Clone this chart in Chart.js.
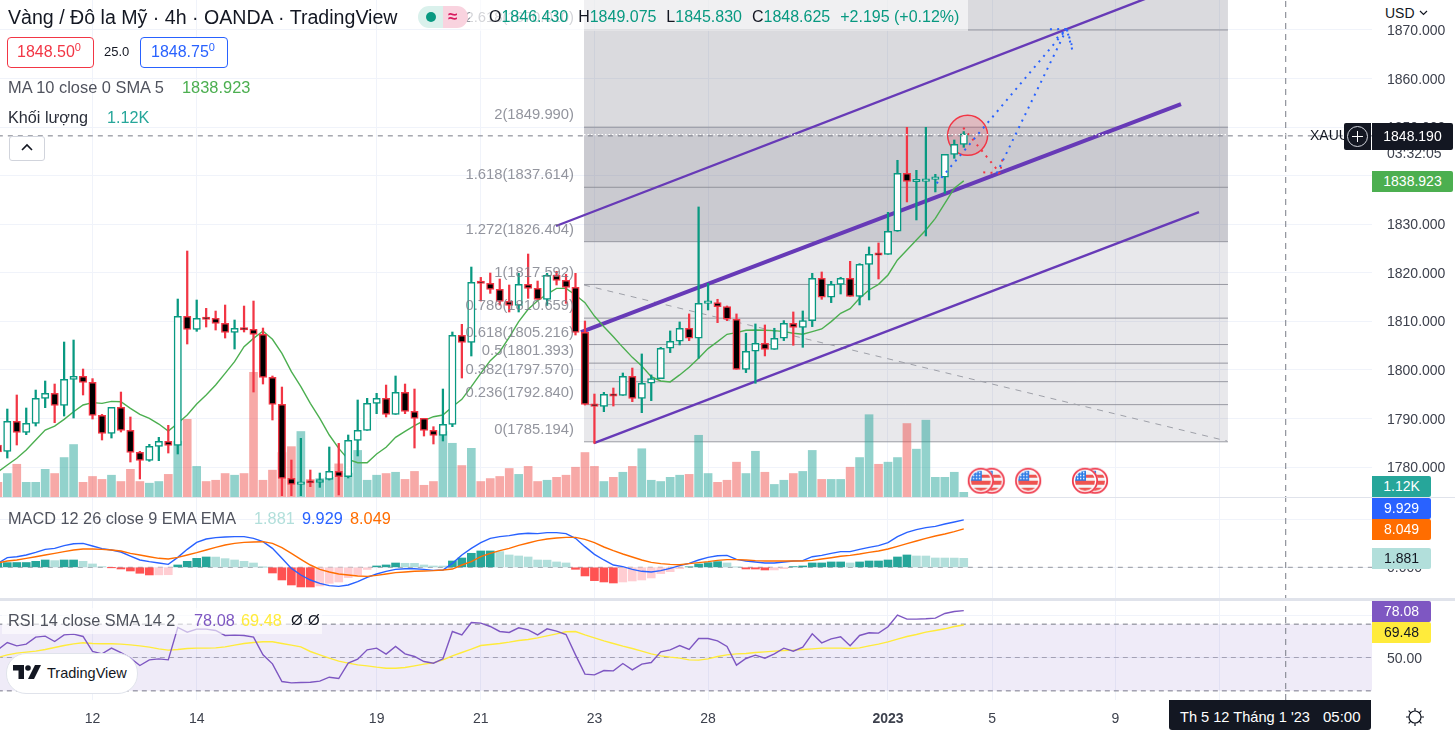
<!DOCTYPE html>
<html>
<head>
<meta charset="utf-8">
<script src="https://cdn.jsdelivr.net/npm/chart.js@4"></script>
<style>
html, body { margin: 0; padding: 0; background: #fff; overflow: hidden; }
body { width: 1455px; height: 733px; position: relative; font-family: "Liberation Sans", Arial, sans-serif; color: #131722; }
canvas { position: absolute; left: 0; top: 0; }
.t { position: absolute; white-space: nowrap; line-height: 20px; }
.box { position: absolute; }
.badge { position: absolute; left: 1372px; width: 59px; height: 21px; line-height: 21px; text-align: center; color: #fff; font-size: 14px; border-radius: 0 2px 2px 0; }
.gr { color: #089981; }
</style>
</head>
<body>
<canvas id="tvChart" width="1455" height="733"></canvas>

<div class="box" style="left:470px;top:0;width:498px;height:31px;background:rgba(255,255,255,.6)"></div>
<div class="t" style="left:8px;top:7px;font-size:19.6px">Vàng / Đô la Mỹ · 4h · OANDA · TradingView</div>
<div class="box" style="left:418px;top:6px;width:25px;height:22px;background:#daf1ec;border-radius:11px 0 0 11px"></div>
<div class="box" style="left:443px;top:6px;width:25px;height:22px;background:#f9d3df;border-radius:0 11px 11px 0"></div>
<div class="box" style="left:426px;top:12px;width:10px;height:10px;background:#089981;border-radius:50%"></div>
<div class="t" style="left:448px;top:7px;font-size:17px;font-weight:bold;color:#d81b60">≈</div>
<div class="t" style="left:489px;top:7px;font-size:16px;word-spacing:5.5px">O<span class="gr">1846.430</span>&nbsp;H<span class="gr">1849.075</span>&nbsp;L<span class="gr">1845.830</span>&nbsp;C<span class="gr">1848.625</span>&nbsp;<span class="gr" style="word-spacing:0">+2.195 (+0.12%)</span></div>

<div class="box" style="left:7px;top:37px;width:85px;height:29px;border:1px solid #f23645;border-radius:4px;background:#fff"></div>
<div class="t" style="left:17px;top:42px;font-size:16px;color:#f23645">1848.50<sup style="font-size:11px;line-height:0">0</sup></div>
<div class="t" style="left:104px;top:42px;font-size:13px">25.0</div>
<div class="box" style="left:140px;top:37px;width:86px;height:29px;border:1px solid #2962ff;border-radius:4px;background:#fff"></div>
<div class="t" style="left:151px;top:42px;font-size:16px;color:#2962ff">1848.75<sup style="font-size:11px;line-height:0">0</sup></div>
<div class="t" style="left:8px;top:77px;font-size:16.4px;color:#50535e">MA 10 close 0 SMA 5</div>
<div class="t" style="left:182px;top:77px;font-size:16.4px;color:#4caf50">1838.923</div>
<div class="t" style="left:8px;top:107px;font-size:16.2px;color:#2a2e39">Khối lượng</div>
<div class="t" style="left:107px;top:107px;font-size:16.2px;color:#26a69a">1.12K</div>
<div class="box" style="left:9px;top:136px;width:34px;height:23px;border:1px solid #d1d4dc;border-radius:3px;background:#fff"></div>
<svg class="box" style="left:20px;top:143px" width="14" height="9"><path d="M2 7 L7 2 L12 7" fill="none" stroke="#131722" stroke-width="1.6"/></svg>

<div class="box" style="left:0;top:497px;width:1455px;height:1px;background:#e0e3eb"></div>
<div class="box" style="left:0;top:598px;width:1455px;height:3px;background:#e0e3eb"></div>

<div class="t" style="left:8px;top:508px;font-size:16.3px;color:#50535e">MACD 12 26 close 9 EMA EMA</div>
<div class="t" style="left:254px;top:508px;font-size:16.3px;color:#b2dfdb">1.881</div>
<div class="t" style="left:302px;top:508px;font-size:16.3px;color:#2962ff">9.929</div>
<div class="t" style="left:350px;top:508px;font-size:16.3px;color:#ff6d00">8.049</div>

<div class="box" style="left:2px;top:608px;width:320px;height:26px;background:rgba(255,255,255,.6)"></div>
<div class="t" style="left:8px;top:610px;font-size:16.3px;color:#50535e">RSI 14 close SMA 14 2</div>
<div class="t" style="left:194px;top:610px;font-size:16.3px;color:#7e57c2">78.08</div>
<div class="t" style="left:241px;top:610px;font-size:16.3px;color:#ffeb3b">69.48</div>
<div class="t" style="left:291px;top:610px;font-size:15px;color:#131722">Ø</div>
<div class="t" style="left:308px;top:610px;font-size:15px;color:#131722">Ø</div>

<div class="box" style="left:6px;top:653px;width:130px;height:39px;background:#fff;border:1px solid #e0e3eb;border-radius:20px"></div>
<svg class="box" style="left:13px;top:665px" width="28" height="15"><path d="M0 0 H11 V14 H5.5 V5.5 H0 Z" fill="#131722"/><circle cx="15" cy="3" r="2.8" fill="#131722"/><path d="M22 0 H28 L21 14 H15 Z" fill="#131722"/></svg>
<div class="t" style="left:47px;top:663px;font-size:14.5px;color:#131722">TradingView</div>

<div class="t" style="left:1310px;top:125px;font-size:14px">XAUU</div>
<div class="t" style="left:1387px;top:143px;font-size:14px;color:#3d414d;height:17px;line-height:20px">03:32:05</div>
<div class="box" style="left:1344px;top:123px;width:27px;height:27px;background:#131722;border-radius:2px 0 0 2px"></div>
<div class="box" style="left:1372px;top:123px;width:81px;height:27px;background:#131722;border-radius:0 2px 2px 0;color:#fff;font-size:14px;line-height:27px;text-align:center">1848.190</div>
<svg class="box" style="left:1346px;top:125px" width="23" height="23"><circle cx="11.5" cy="11.5" r="10" fill="none" stroke="#d1d4dc" stroke-width="1"/><path d="M11.5 6 V17 M6 11.5 H17" stroke="#fff" stroke-width="1"/></svg>
<div class="box" style="left:1372px;top:171px;width:81px;height:21px;background:#4caf50;border-radius:0 2px 2px 0;color:#fff;font-size:14px;line-height:21px;text-align:center">1838.923</div>
<div class="box" style="left:1372px;top:0;width:83px;height:25px;background:#fff"></div>
<div class="t" style="left:1385px;top:3px;font-size:14px">USD</div>
<svg class="box" style="left:1419px;top:10px" width="9" height="6"><path d="M1 1 L4.5 4.5 L8 1" fill="none" stroke="#131722" stroke-width="1.2"/></svg>

<div class="badge" style="top:476px;background:#26a69a">1.12K</div>
<div class="badge" style="top:498px;background:#2962ff">9.929</div>
<div class="badge" style="top:519px;background:#ff6d00">8.049</div>
<div class="badge" style="top:548px;background:#b2dfdb;color:#131722">1.881</div>
<div class="badge" style="top:601px;background:#7e57c2">78.08</div>
<div class="badge" style="top:622px;background:#ffeb3b;color:#131722">69.48</div>

<div class="box" style="left:1169px;top:700px;width:202px;height:30px;background:#131722;border-radius:0 0 3px 3px"></div>
<div class="t" style="left:1180px;top:707px;color:#fff;font-size:14.6px">Th 5 12 Tháng 1 '23</div>
<div class="t" style="left:1323px;top:707px;color:#fff;font-size:15px">05:00</div>
<svg class="box" style="left:1405px;top:707px" width="20" height="20"><circle cx="10" cy="10" r="6" fill="none" stroke="#131722" stroke-width="1.2"/><path d="M10 1 V4 M10 16 V19 M1 10 H4 M16 10 H19 M3.6 3.6 L5.8 5.8 M14.2 14.2 L16.4 16.4 M3.6 16.4 L5.8 14.2 M14.2 5.8 L16.4 3.6" stroke="#131722" stroke-width="1.2"/></svg>

<script>
// candles, oldest first (the first one is cut by the left edge)
const opens = [1784.5,
  1783.23,1789.40,1787.14,1788.99,1794.14,1795.17,1792.70,1798.05,1798.67,1797.43,
  1790.64,1786.93,1792.29,1787.55,1783.02,1781.37,1784.26,1785.29,1784.46,1811.02,
  1808.35,1810.61,1810.61,1809.58,1807.73,1808.55,1808.35,1807.32,1798.46,1792.90,
  1777.67,1776.43,1776.84,1776.84,1777.46,1779.11,1778.01,1785.49,1787.55,1793.11,
  1794.14,1790.84,1795.37,1791.46,1790.02,1787.55,1786.52,1788.79,1807.11,1805.67,
  1818.02,1817.82,1816.58,1814.11,1813.29,1817.61,1816.79,1814.52,1819.47,1818.44,
  1817.00,1807.73,1792.90,1792.49,1794.83,1794.76,1798.67,1794.14,1797.24,1798.20,
  1804.45,1805.89,1808.57,1806.51,1813.71,1813.85,1813.03,1810.42,1800.12,1803.83,
  1805.48,1804.24,1806.51,1809.59,1808.77,1810.14,1818.86,1814.95,1817.62,1818.86,
  1815.15,1821.74,1823.80,1823.80,1828.54,1840.48,1838.76,1838.83,1839.24,1839.66,
  1844.39,1846.43];
const highs = [1785.4,
  1791.94,1794.83,1792.15,1795.85,1797.71,1797.09,1805.74,1806.15,1800.18,1798.20,
  1790.84,1792.29,1795.44,1790.30,1783.23,1784.67,1786.11,1788.58,1814.59,1824.48,
  1814.39,1812.67,1812.12,1813.36,1810.27,1813.15,1814.18,1808.62,1798.74,1796.47,
  1781.44,1785.90,1779.38,1778.76,1784.12,1784.87,1786.59,1793.80,1794.14,1795.17,
  1796.88,1798.74,1797.09,1796.06,1790.02,1788.30,1796.06,1807.80,1809.38,1821.18,
  1819.05,1819.95,1818.71,1817.48,1819.88,1823.86,1818.30,1819.88,1820.29,1819.67,
  1819.88,1810.06,1795.03,1795.37,1796.27,1799.36,1800.38,1803.28,1798.96,1804.65,
  1808.02,1809.87,1811.52,1833.55,1817.83,1814.54,1813.16,1811.52,1807.54,1809.46,
  1809.25,1808.57,1810.14,1811.93,1812.13,1819.89,1820.16,1818.24,1819.07,1822.36,
  1821.88,1825.31,1826.14,1832.45,1843.16,1849.95,1841.10,1849.95,1840.27,1844.39,
  1847.34,1849.075];
const lows = [1782.9,
  1781.85,1784.53,1786.66,1788.44,1792.22,1789.13,1790.50,1790.09,1794.83,1789.88,
  1785.56,1785.97,1787.21,1781.03,1777.53,1781.17,1781.30,1782.88,1782.68,1805.33,
  1807.94,1808.83,1808.21,1806.56,1804.30,1807.80,1795.44,1797.09,1789.68,1774.10,
  1774.10,1774.10,1775.95,1775.81,1777.32,1774.24,1777.74,1782.27,1787.55,1790.98,
  1790.30,1790.84,1790.98,1783.91,1786.38,1784.74,1785.36,1788.30,1798.33,1802.86,
  1814.18,1815.76,1813.36,1811.92,1811.92,1814.73,1814.52,1813.29,1817.48,1813.70,
  1807.18,1792.77,1784.87,1791.39,1792.56,1794.76,1793.45,1791.19,1793.67,1798.20,
  1803.56,1805.13,1806.03,1802.39,1812.34,1809.73,1810.14,1800.12,1799.44,1797.24,
  1802.87,1804.24,1806.03,1805.07,1804.65,1808.91,1814.54,1813.85,1815.63,1815.15,
  1813.37,1814.40,1818.72,1823.80,1828.54,1834.58,1830.87,1827.58,1836.64,1836.36,
  1843.57,1845.83];
const closes = [1783.1,
  1789.40,1787.14,1788.99,1794.14,1795.17,1792.70,1798.05,1798.67,1797.43,1790.64,
  1786.93,1792.29,1787.55,1783.02,1781.37,1784.26,1785.29,1784.46,1811.02,1808.35,
  1810.61,1810.40,1809.58,1807.73,1808.55,1808.21,1807.32,1798.46,1792.90,1777.67,
  1776.43,1776.84,1776.70,1777.39,1779.11,1778.01,1785.49,1787.55,1793.11,1794.14,
  1790.84,1795.37,1791.46,1790.02,1787.55,1786.52,1788.79,1807.11,1805.67,1818.02,
  1817.80,1816.58,1814.11,1813.29,1817.61,1816.79,1814.52,1819.47,1818.44,1817.00,
  1807.73,1792.90,1792.49,1794.96,1794.60,1798.67,1794.14,1797.24,1798.20,1804.45,
  1805.89,1808.57,1806.51,1813.71,1813.85,1813.03,1810.42,1800.12,1803.83,1805.48,
  1804.24,1806.51,1809.59,1808.77,1810.14,1818.86,1814.95,1817.62,1818.86,1815.15,
  1821.74,1823.80,1823.60,1828.54,1840.48,1838.83,1838.83,1839.24,1839.66,1844.39,
  1846.45,1848.625];
// volume in thousands
const volumes = [3.5,
  5.6,7.8,3.5,3.5,6.6,5.6,9.4,12.5,3.5,4.9,
  4.2,5.2,3.7,6.6,3.7,3.3,3.7,5.4,13.3,18.5,
  7.3,3.7,4.0,5.6,5.2,5.6,29.7,4.0,6.4,10.6,
  12.0,15.6,4.2,4.4,4.7,7.9,5.7,11.1,4.0,5.2,
  5.6,5.9,4.2,6.1,2.8,3.7,15.6,12.8,7.5,11.6,
  3.7,4.4,4.9,6.8,5.4,7.3,3.7,4.0,4.7,5.2,
  7.1,10.6,7.3,3.7,4.7,5.9,7.3,11.5,4.0,3.7,
  4.7,5.2,5.4,14.7,5.6,3.5,4.0,8.3,5.6,10.9,
  5.9,3.0,4.0,5.6,6.1,11.1,4.2,4.2,4.2,7.1,
  9.4,19.6,7.8,8.3,9.4,17.5,11.4,18.3,4.7,4.7,
  5.9,1.12];
const maValues = [1779.0,
  1780.41,1781.79,1783.5,1785.56,1787.62,1788.44,1789.82,1791.39,1792.77,1793.25,
  1793.11,1793.52,1793.45,1792.08,1790.84,1790.02,1788.85,1787.41,1789.0,1790.71,
  1792.97,1794.83,1796.88,1799.29,1801.69,1804.78,1806.49,1808.0,1806.29,1803.4,
  1799.63,1796.54,1793.11,1790.02,1786.59,1783.84,1781.58,1780.89,1780.89,1782.68,
  1784.05,1786.11,1787.34,1788.51,1789.54,1790.36,1790.71,1792.42,1793.93,1796.54,
  1799.29,1801.9,1803.75,1806.7,1809.93,1812.47,1814.25,1815.62,1816.79,1816.79,
  1815.42,1813.84,1811.09,1808.9,1806.84,1804.64,1802.58,1800.8,1798.61,1797.72,
  1797.52,1798.96,1800.53,1802.39,1804.38,1805.82,1807.33,1807.67,1808.15,1808.22,
  1808.15,1808.08,1807.88,1807.54,1807.33,1807.88,1808.43,1809.94,1811.65,1812.61,
  1814.74,1816.46,1817.62,1819.55,1822.63,1824.69,1826.75,1828.81,1831.21,1834.3,
  1837.39,1838.923];
const macdLine = [0.83,
  2.03,2.22,2.57,3.13,3.76,3.97,4.53,4.94,5.01,4.46,
  3.9,3.62,3.2,2.36,1.53,1.18,0.9,0.62,2.08,3.76,
  5.22,5.92,6.2,6.34,6.41,6.41,6.06,5.36,3.97,1.88,
  -0.22,-1.61,-2.66,-3.36,-3.84,-3.98,-3.7,-3.01,-2.1,-1.4,
  -0.84,-0.43,-0.29,-0.29,-0.43,-0.64,-0.57,0.83,2.57,3.97,
  5.15,6.06,6.41,6.62,6.97,7.11,7.04,7.25,7.25,7.04,
  6.06,4.32,2.71,1.53,0.48,0.13,-0.43,-0.84,-0.98,-0.7,
  -0.22,0.34,0.83,1.53,2.08,2.43,2.5,1.67,1.32,1.11,
  0.9,0.9,1.11,1.32,1.39,2.22,2.5,2.92,3.27,3.27,
  3.76,4.18,4.53,5.15,6.41,7.31,7.87,8.29,8.57,9.06,
  9.48,9.929];
const signalLine = [0.9,
  1.32,1.53,1.88,2.22,2.57,2.92,3.27,3.62,3.83,3.83,
  3.76,3.62,3.41,2.92,2.57,2.22,1.88,1.74,2.08,2.57,
  3.06,3.62,4.18,4.67,5.01,5.22,5.29,5.36,5.01,4.11,
  2.92,1.67,0.48,-0.43,-0.98,-1.4,-1.61,-1.82,-1.89,-1.68,
  -1.4,-1.12,-0.98,-0.84,-0.77,-0.7,-0.57,-0.36,0.48,1.18,
  2.22,2.92,3.48,3.97,4.6,5.08,5.57,5.92,6.13,6.27,
  6.27,5.85,5.15,4.25,3.48,2.78,2.15,1.53,1.04,0.76,
  0.62,0.55,0.76,0.97,1.18,1.46,1.6,1.6,1.53,1.39,
  1.32,1.32,1.32,1.32,1.32,1.46,1.74,2.0,2.3,2.5,
  2.78,3.13,3.41,3.83,4.39,4.94,5.5,6.06,6.55,6.97,
  7.45,8.049];
const macdHist = [0.9,
  0.98,1.0,1.0,1.25,1.53,1.4,1.53,1.53,1.25,0.7,
  0.14,-0.02,-0.35,-0.77,-1.25,-1.6,-1.58,-1.55,0.49,1.25,
  1.88,2.16,2.14,1.81,1.53,1.25,0.9,0.02,-1.19,-2.65,
  -3.7,-4.11,-4.12,-3.9,-3.35,-3.07,-2.16,-1.67,-0.45,0.28,
  0.49,0.9,0.84,0.83,0.49,0.28,0.27,1.32,1.95,2.93,
  3.42,3.42,3.28,2.58,2.37,2.16,1.53,1.5,1.12,0.91,
  -0.42,-1.81,-2.79,-3.07,-3.28,-3.07,-2.86,-2.65,-2.23,-1.32,
  -0.91,-0.28,0.1,0.7,0.98,1.19,0.91,0.07,-0.35,-0.36,
  -0.56,-0.55,-0.28,0.14,0.28,0.91,0.91,1.12,1.12,0.91,
  1.12,1.32,1.32,1.53,2.16,2.58,2.37,2.36,1.95,1.94,
  1.93,1.881];
const rsiValues = [54.6,
  59,57,58,62.2,62.8,59.6,63.6,64,62.6,53.6,
  52.2,55.6,53,49.6,45.2,48.6,49.2,48.6,68,65.2,
  67,67,66.2,63.2,63.4,63.2,62.2,51.6,46.2,35.6,
  34.8,35,35.2,35.8,38.2,37.4,46.6,49,54.6,55.6,
  52,56.6,52.2,50.6,47.6,46.6,49.2,65.6,63.6,71,
  70.6,68.6,65.6,65,67.8,66.6,63.6,67.2,65.8,63.8,
  51.6,40,39.6,42.2,42,46.4,42.6,46,47,53.4,
  54.6,57.2,54.8,61.4,61.4,60,56.6,45.4,49.4,51.4,
  49.6,52.2,55.6,53.8,56.2,64.2,58.8,61.2,62.4,57,
  63.2,64.8,64.6,68.4,75.4,73,73,73.2,73.6,76.4,
  77.6,78.08];
const rsiSma = [50,
  51.6,52.6,53.2,53.8,54.8,56,57.2,58.2,58.8,58.4,
  58.2,58.2,58,57.6,57,56.2,55.2,54.4,54.8,55.4,
  55.6,55.6,55.8,56.4,57.4,58.4,59,59.4,59.4,58.4,
  57.4,56.4,53.6,51.6,49.6,47.8,46.6,45.6,45,44.2,
  43.6,43.6,44,45,46,46.8,48.6,51,53,55,
  57.2,57.8,58.4,59.2,60.2,60.8,61.8,63,64.2,65.4,
  65.6,63.6,61.8,60,58.4,56.8,55.4,53.8,52.2,51,
  50.2,49.6,48.6,48.4,49.2,50.6,51.6,52.2,52.4,53,
  53.4,53.8,54.2,54.4,54.8,55.2,55.6,55.6,55.6,55.4,
  55.8,57,58,59.4,61,62.6,63.8,65.2,66.2,67.2,
  68.6,69.48];

// axes
const dayTicks = [10,21,40,51,63,75,94,105,118,129];
const dayLabels = ['12','14','19','21','23','28','2023','5','9',''];
const priceTicks = [1780,1790,1800,1810,1820,1830,1840,1850,1860,1870];
const macdTicks = [0,10];
const rsiTicks = [50,75];

// fib retracement drawing
const fibLevels = [1785.194,1792.84,1797.57,1801.393,1805.216,1810.659,1817.592,1826.404,1837.614,1849.99,1870.01];
const fibLabels = ['0(1785.194)','0.236(1792.840)','0.382(1797.570)','0.5(1801.393)','0.618(1805.216)','0.786(1810.659)','1(1817.592)','1.272(1826.404)','1.618(1837.614)','2(1849.990)','2.618(1870.010)'];
const fibBandTops = [1792.84,1797.57,1801.393,1805.216,1810.659,1817.592,1826.404,1837.614,1849.99,1870.01,1876.17];
const fibBandAlpha = [.15,.15,.15,.15,.15,.15,.15,.34,.34,.24,.24];
const fibRange = [61.9,129.9];

// hand drawn lines on the chart, as [bar, price] pairs
const channelUpper = [[58.94,1829.63],[121.67,1876.79]];
const channelMiddle = [[61.58,1807.8],[124.94,1854.75]];
const channelLower = [[62.95,1784.94],[126.84,1832.51]];
const dashedTrend = [[61.9,1817.48],[129.8,1785.35]];
const blueArrowA = [[99.14,1838.42],[112.87,1870.2]];
const blueArrowB = [[105.48,1840.48],[112.87,1870.2]];
const blueHeadA = [[111.1,1870.14],[112.87,1870.2],[113.46,1865.87]];
const blueHeadB = [[111.81,1868.28],[112.87,1870.2],[113.4,1866.9]];
const redArrow = [[101.95,1849.87],[105.83,1840.48]];
const redHead = [[104.06,1840.69],[105.83,1840.48],[106.11,1843.7]];
const circleMark = [102.41,1848.3];
const newsFlags = [[104.95,1777.18],[103.8,1777.18],[108.8,1777.18],[115.86,1777.18],[114.8,1777.18]];

const lastPrice = 1848.19;
const crosshairBar = 136;

const GREEN = '#089981';
const RED = '#f23645';
const isUp = i => closes[i] >= opens[i];
const xy = pts => pts.map(p => ({x: p[0], y: p[1]}));
const bars = opens.map((o, i) => i);

function lineSet(data, color, width, yAxisID, order, extra) {
    return Object.assign({
        type: 'line', data: data, borderColor: color, borderWidth: width, yAxisID: yAxisID,
        pointRadius: 0, tension: 0, fill: false, order: order
    }, extra || {});
}

// small US flag used for the economic calendar marks
function makeFlag() {
    const c = document.createElement('canvas');
    c.width = 28; c.height = 28;
    const g = c.getContext('2d');
    g.beginPath(); g.arc(14, 14, 13, 0, Math.PI * 2); g.fillStyle = '#fff'; g.fill();
    g.save();
    g.beginPath(); g.arc(14, 14, 10, 0, Math.PI * 2); g.clip();
    g.fillStyle = '#f4f4f6'; g.fillRect(0, 0, 28, 28);
    g.fillStyle = '#ef5350';
    g.fillRect(0, 8, 28, 3); g.fillRect(0, 14, 28, 4); g.fillRect(0, 21, 28, 4);
    g.fillStyle = '#2d7be5'; g.fillRect(3, 3, 12, 11);
    g.fillStyle = '#fff';
    for (let a = 0; a < 3; a++) for (let b = 0; b < 3; b++) g.fillRect(6 + a * 3, 5 + b * 3, 1.4, 1.4);
    g.restore();
    g.beginPath(); g.arc(14, 14, 12.2, 0, Math.PI * 2); g.strokeStyle = '#ef3a4c'; g.lineWidth = 1.8; g.stroke();
    return c;
}

const datasets = [];

// fib bands and lines go first, at the back
fibLevels.forEach((lvl, i) => {
    datasets.push(lineSet(xy([[fibRange[0], lvl], [fibRange[1], lvl]]), '#9a9ba3', 1, 'price', 100, {
        fill: {target: {value: fibBandTops[i]}, above: 'rgba(100,100,118,' + fibBandAlpha[i] + ')', below: 'rgba(100,100,118,' + fibBandAlpha[i] + ')'}
    }));
});
datasets.push(lineSet(xy(dashedTrend), '#9ea0a8', 1, 'price', 95, {borderDash: [6, 6]}));

// volume
datasets.push({
    type: 'bar', yAxisID: 'vol', order: 90, barThickness: 8,
    data: bars.map(i => ({x: i, y: volumes[i]})),
    backgroundColor: bars.map(i => isUp(i) ? 'rgba(38,166,154,.5)' : 'rgba(239,83,80,.5)')
});

// drawn channel
datasets.push(lineSet(xy(channelUpper), '#673ab7', 2.4, 'price', 70));
datasets.push(lineSet(xy(channelMiddle), '#673ab7', 4, 'price', 70));
datasets.push(lineSet(xy(channelLower), '#673ab7', 2.4, 'price', 70));

// circle sits behind the candles, the arrows over them
datasets.push({
    type: 'scatter', yAxisID: 'price', order: 65, data: [{x: circleMark[0], y: circleMark[1]}],
    pointRadius: 20, backgroundColor: 'rgba(242,54,69,.2)', borderColor: '#f23645', borderWidth: 1.5
});

// moving average
datasets.push(lineSet(bars.map(i => ({x: i, y: maValues[i]})), '#4caf50', 1.4, 'price', 60));

// wicks then bodies
datasets.push({
    type: 'bar', yAxisID: 'price', order: 50, barThickness: 1.6,
    data: bars.map(i => ({x: i, y: [lows[i], highs[i]]})),
    backgroundColor: bars.map(i => isUp(i) ? GREEN : RED)
});
datasets.push({
    type: 'bar', yAxisID: 'price', order: 40, barThickness: 7.4, minBarLength: 2.4,
    data: bars.map(i => ({x: i, y: [opens[i], closes[i]]})),
    backgroundColor: bars.map(i => isUp(i) ? '#fff' : '#000'),
    borderColor: bars.map(i => isUp(i) ? GREEN : RED),
    borderWidth: 1.5, borderSkipped: false
});

// price line, crosshair
datasets.push(lineSet(xy([[0, lastPrice], [146, lastPrice]]), '#787b86', 1, 'price', 30, {borderDash: [5, 5]}));
datasets.push(lineSet(xy([[61.9, lastPrice + .25], [146, lastPrice + .25]]), '#fff', 1.3, 'price', 30, {borderDash: [1.5, 2]}));
datasets.push(lineSet(xy([[crosshairBar, 1732.02], [crosshairBar, 1876.17]]), '#787b86', 1, 'price', 30, {borderDash: [6, 5]}));

// arrows
[blueArrowA, blueArrowB, blueHeadA, blueHeadB].forEach(a => {
    datasets.push(lineSet(xy(a), '#2962ff', 2, 'price', 20, {borderDash: [2, 5.2]}));
});
[redArrow, redHead].forEach(a => {
    datasets.push(lineSet(xy(a), '#f23645', 2, 'price', 20, {borderDash: [2, 5.2]}));
});
datasets.push({
    type: 'scatter', yAxisID: 'price', order: 10, data: xy(newsFlags),
    pointStyle: makeFlag(), pointRadius: 14
});

// MACD pane
datasets.push({
    type: 'bar', yAxisID: 'macd', order: 40, barThickness: 8,
    data: bars.map(i => ({x: i, y: macdHist[i]})),
    backgroundColor: bars.map(i => {
        const prev = i ? macdHist[i - 1] : macdHist[i];
        if (macdHist[i] >= 0) return macdHist[i] >= prev ? '#26a69a' : '#b2dfdb';
        return macdHist[i] < prev ? '#ff5252' : '#ffcdd2';
    })
});
datasets.push(lineSet(xy([[0, 0], [146, 0]]), '#9598a1', 1, 'macd', 60, {borderDash: [5, 5]}));
datasets.push(lineSet(bars.map(i => ({x: i, y: macdLine[i]})), '#2962ff', 1.4, 'macd', 20));
datasets.push(lineSet(bars.map(i => ({x: i, y: signalLine[i]})), '#ff6d00', 1.4, 'macd', 19));

// RSI pane
datasets.push(lineSet(xy([[0, 70], [146, 70]]), '#787b86', 1, 'rsi', 80, {
    borderDash: [5, 4], fill: {target: {value: 30}, above: 'rgba(126,87,194,.12)', below: 'rgba(126,87,194,.12)'}
}));
datasets.push(lineSet(xy([[0, 50], [146, 50]]), '#a9abb3', 1, 'rsi', 80, {borderDash: [5, 4]}));
datasets.push(lineSet(xy([[0, 30], [146, 30]]), '#787b86', 1, 'rsi', 80, {borderDash: [5, 4]}));
datasets.push(lineSet(bars.map(i => ({x: i, y: rsiSma[i]})), '#ffeb3b', 1.4, 'rsi', 21));
datasets.push(lineSet(bars.map(i => ({x: i, y: rsiValues[i]})), '#7e57c2', 1.4, 'rsi', 20));

const fibTextPlugin = {
    id: 'fibText',
    afterDatasetsDraw(chart) {
        const g = chart.ctx, y = chart.scales.price;
        g.save();
        g.font = '14.8px "Liberation Sans", Arial, sans-serif';
        g.textAlign = 'right';
        g.textBaseline = 'middle';
        g.fillStyle = 'rgba(120,123,134,.8)';
        fibLevels.forEach((lvl, i) => g.fillText(fibLabels[i], 574, y.getPixelForValue(lvl) - 12));
        g.restore();
    }
};

// the zero width axes clip their labels to their own box, widen it after layout
const paneLabelsPlugin = {
    id: 'paneLabels',
    afterLayout(chart) {
        chart.scales.macd.right = chart.scales.macd.left + 83;
        chart.scales.rsi.right = chart.scales.rsi.left + 83;
    }
};

// no label overhang, the plot has to fill the canvas edge to edge
function noPadding(s) {
    s.paddingLeft = s.paddingRight = s.paddingTop = s.paddingBottom = 0;
}

function rightAxis(min, max, ticks, fmt, width, weight) {
    return {
        position: 'right', min: min, max: max, weight: weight,
        afterBuildTicks: s => { s.ticks = ticks.map(v => ({value: v})); },
        afterFit: s => { s.width = width; noPadding(s); },
        grid: {color: '#f0f3fa', drawTicks: false},
        border: {display: false},
        ticks: {autoSkip: false, padding: 15, labelOffset: 1.2, color: '#3d414d', font: {size: 14}, callback: fmt}
    };
}

Chart.defaults.font.family = '"Liberation Sans", Arial, sans-serif';

const tvChart = new Chart(document.getElementById('tvChart').getContext('2d'), {
    type: 'bar',
    data: {datasets: datasets},
    plugins: [fibTextPlugin, paneLabelsPlugin],
    options: {
        responsive: false,
        animation: false,
        events: [],
        layout: {padding: 0, autoPadding: false},
        datasets: {bar: {grouped: false}},
        plugins: {legend: {display: false}, tooltip: {enabled: false}},
        scales: {
            x: {
                type: 'linear', min: 0.229, max: 145.11, offset: false,
                afterBuildTicks: s => { s.ticks = dayTicks.map(v => ({value: v})); },
                afterFit: s => { s.height = 33; noPadding(s); },
                grid: {color: '#f0f3fa', offset: false, drawTicks: false},
                border: {display: false},
                ticks: {
                    autoSkip: false, maxRotation: 0, padding: 11, color: '#3d414d',
                    font: c => ({size: 14, weight: c.tick && c.tick.value === 94 ? 'bold' : 'normal'}),
                    callback: v => dayLabels[dayTicks.indexOf(v)]
                }
            },
            price: rightAxis(1732.02, 1876.17, priceTicks, v => v.toFixed(3), 83, 10),
            macd: rightAxis(-27.76, 118.68, macdTicks, v => v.toFixed(3), 0, 1),
            rsi: rightAxis(24.52, 444.2, rsiTicks, v => v === 50 ? v.toFixed(2) : '', 0, 1),
            vol: {position: 'right', display: false, min: -48.3, max: 118.3}
        }
    }
});
</script>
</body>
</html>
